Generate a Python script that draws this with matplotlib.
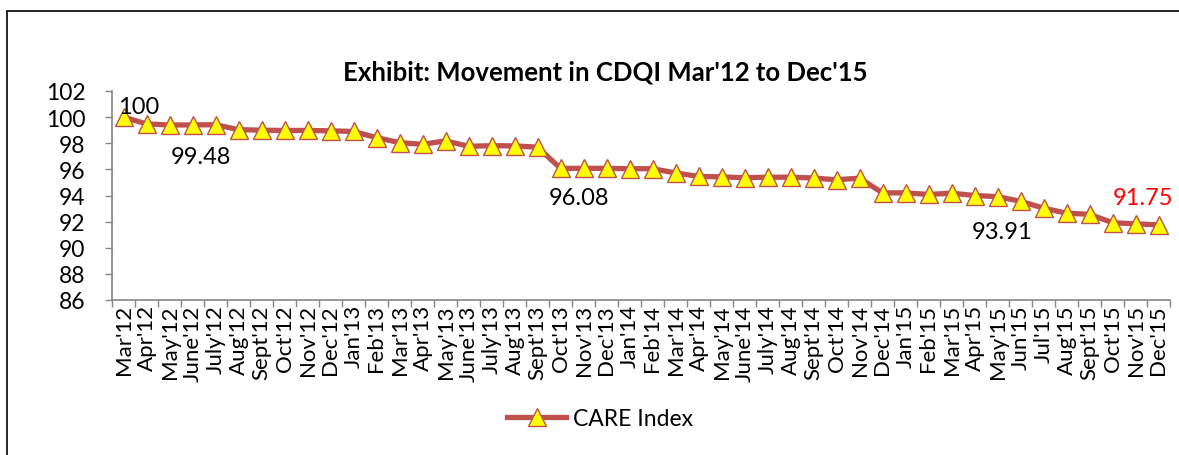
import matplotlib
matplotlib.use("Agg")
import matplotlib.pyplot as plt
from matplotlib.patches import Rectangle

# ---------------------------------------------------------------------
# Data
# ---------------------------------------------------------------------
months = [
    "Mar'12", "Apr'12", "May'12", "June'12", "July'12", "Aug'12", "Sept'12",
    "Oct'12", "Nov'12", "Dec'12", "Jan'13", "Feb'13", "Mar'13", "Apr'13",
    "May'13", "June'13", "July'13", "Aug'13", "Sept'13", "Oct'13", "Nov'13",
    "Dec'13", "Jan'14", "Feb'14", "Mar'14", "Apr'14", "May'14", "June'14",
    "July'14", "Aug'14", "Sept'14", "Oct'14", "Nov'14", "Dec'14", "Jan'15",
    "Feb'15", "Mar'15", "Apr'15", "May'15", "Jun'15", "Jul'15", "Aug'15",
    "Sept'15", "Oct'15", "Nov'15", "Dec'15",
]
care_index = [
    100, 99.48, 99.40, 99.40, 99.42, 99.04, 99.00, 98.98, 98.98, 98.95,
    98.90, 98.43, 98.05, 97.92, 98.18, 97.77, 97.81, 97.80, 97.70, 96.08,
    96.08, 96.08, 96.05, 96.05, 95.73, 95.46, 95.43, 95.36, 95.40, 95.40,
    95.34, 95.20, 95.33, 94.20, 94.20, 94.08, 94.18, 94.00, 93.91, 93.56,
    93.03, 92.65, 92.56, 91.92, 91.83, 91.75,
]
y_ticks = [86, 88, 90, 92, 94, 96, 98, 100, 102]

# which points carry a data label, and where the label sits (pixels)
label_points = [0, 1, 19, 38, 45]
label_offsets = [(15, 11), (54, -33), (19, -29), (5, -35), (-15, 27)]
label_colors = ["black", "black", "black", "black", "red"]

# ---------------------------------------------------------------------
# Plot
# ---------------------------------------------------------------------
W, H = 1179, 456
plt.rcParams["font.family"] = ["Lato", "DejaVu Sans"]

fig = plt.figure(figsize=(W / 100, H / 100), dpi=100)
ax = fig.add_axes([112 / W, 1 - 301 / H, (1170 - 112) / W, (301 - 92) / H])

# outer chart frame
fig.patches.append(Rectangle((7 / W, 1 - 480 / H), 1200 / W, 468 / H,
                             transform=fig.transFigure, fill=False,
                             edgecolor="black", linewidth=1.2))

x = list(range(len(months)))
ax.plot(x, care_index, color="#C0504D", linewidth=3.8, marker="^",
        markersize=13, markerfacecolor="#FFFF00", markeredgecolor="#C0504D",
        markeredgewidth=1.0, label="CARE Index", zorder=3)

ax.set_xlim(-0.5, len(months) - 0.5)
ax.set_ylim(86, 102)
ax.set_yticks(y_ticks)
ax.set_yticklabels([str(v) for v in y_ticks], fontsize=16.5)
ax.set_xticks(x)
ax.set_xticklabels(months, rotation=90, fontsize=16)
ax.tick_params(axis="x", length=0, pad=3)
ax.set_xticks([i - 0.5 for i in range(len(months) + 1)], minor=True)
ax.tick_params(axis="x", which="minor", length=5, color="#868686", width=1)
ax.tick_params(axis="y", length=5, color="#868686", width=1, pad=14)

for side in ["top", "right"]:
    ax.spines[side].set_visible(False)
for side in ["left", "bottom"]:
    ax.spines[side].set_color("#868686")
    ax.spines[side].set_linewidth(1.2)

for idx, (dx, dy), col in zip(label_points, label_offsets, label_colors):
    val = care_index[idx]
    txt = f"{val:g}" if val == int(val) else f"{val:.2f}"
    ax.annotate(txt, xy=(idx, val), xytext=(dx, dy), textcoords="offset pixels",
                ha="center", va="center", fontsize=17, color=col, zorder=4)

fig.text(605 / W, 1 - 72 / H, "Exhibit: Movement in CDQI Mar'12 to Dec'15",
         ha="center", va="center", fontsize=18.5, fontweight="bold")

fig.legend(loc="center", bbox_to_anchor=(600 / W, 1 - 420 / H), frameon=False,
           fontsize=16.5, handlelength=2.6, handletextpad=0.3)

fig.savefig("out.png", dpi=100)
